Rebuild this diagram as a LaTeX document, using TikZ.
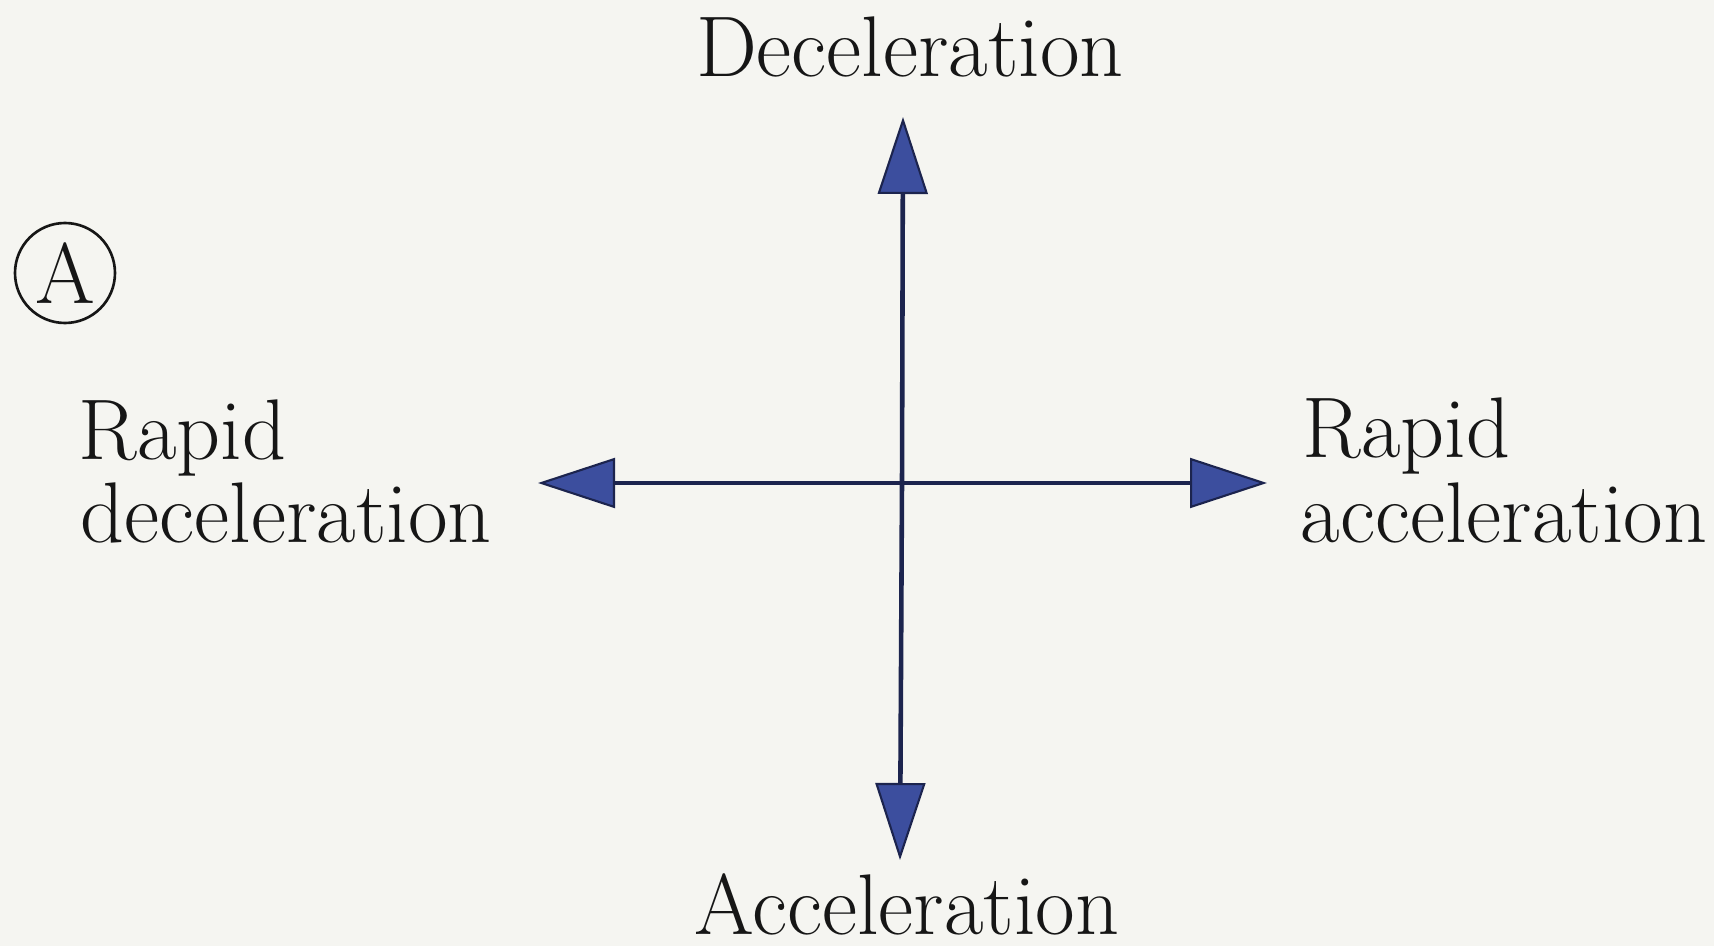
\documentclass[tikz,border=0pt]{standalone}
\usepackage{fontspec}
\usetikzlibrary{arrows.meta}
\definecolor{paper}{RGB}{245,245,241}
\definecolor{axisnavy}{RGB}{28,36,78}
\definecolor{tipblue}{RGB}{60,78,158}
\definecolor{ink}{RGB}{22,22,22}
\begin{document}
\begin{tikzpicture}[every node/.style={font=\fontsize{24.5}{25}\selectfont, text=ink, inner sep=0pt},
  axis/.style={draw=axisnavy, line width=1.3pt, -{Triangle[length=7.7mm,width=5mm,fill=tipblue,line width=0.6pt]}}]
  \useasboundingbox[fill=paper] (0,0) rectangle (17.14,9.46);

  \coordinate (C) at (9.02,4.63);
  \coordinate (Up) at (9.03,8.29);
  \coordinate (Dn) at (9.00,0.86);
  \coordinate (Lt) at (5.38,4.63);
  \coordinate (Rt) at (12.67,4.63);

  \draw[axis] (C) -- (Up);
  \draw[axis] (C) -- (Dn);
  \draw[axis] (C) -- (Lt);
  \draw[axis] (C) -- (Rt);

  \node[anchor=base] (decel) at (9.10,8.69) {Deceleration};
  \node[anchor=base] (accel) at (9.07,0.12) {Acceleration};
  \node[anchor=base west] (rapidL) at (0.78,4.86) {Rapid};
  \node[anchor=base west] (decelL) at (0.80,4.04) {deceleration};
  \node[anchor=base west] (rapidR) at (13.02,4.88) {Rapid};
  \node[anchor=base west] (accelR) at (13.00,4.04) {acceleration};

  \node[draw=ink, line width=0.75pt, circle, minimum size=1.0cm] (tagA) at (0.65,6.73) {A};
\end{tikzpicture}
\end{document}
